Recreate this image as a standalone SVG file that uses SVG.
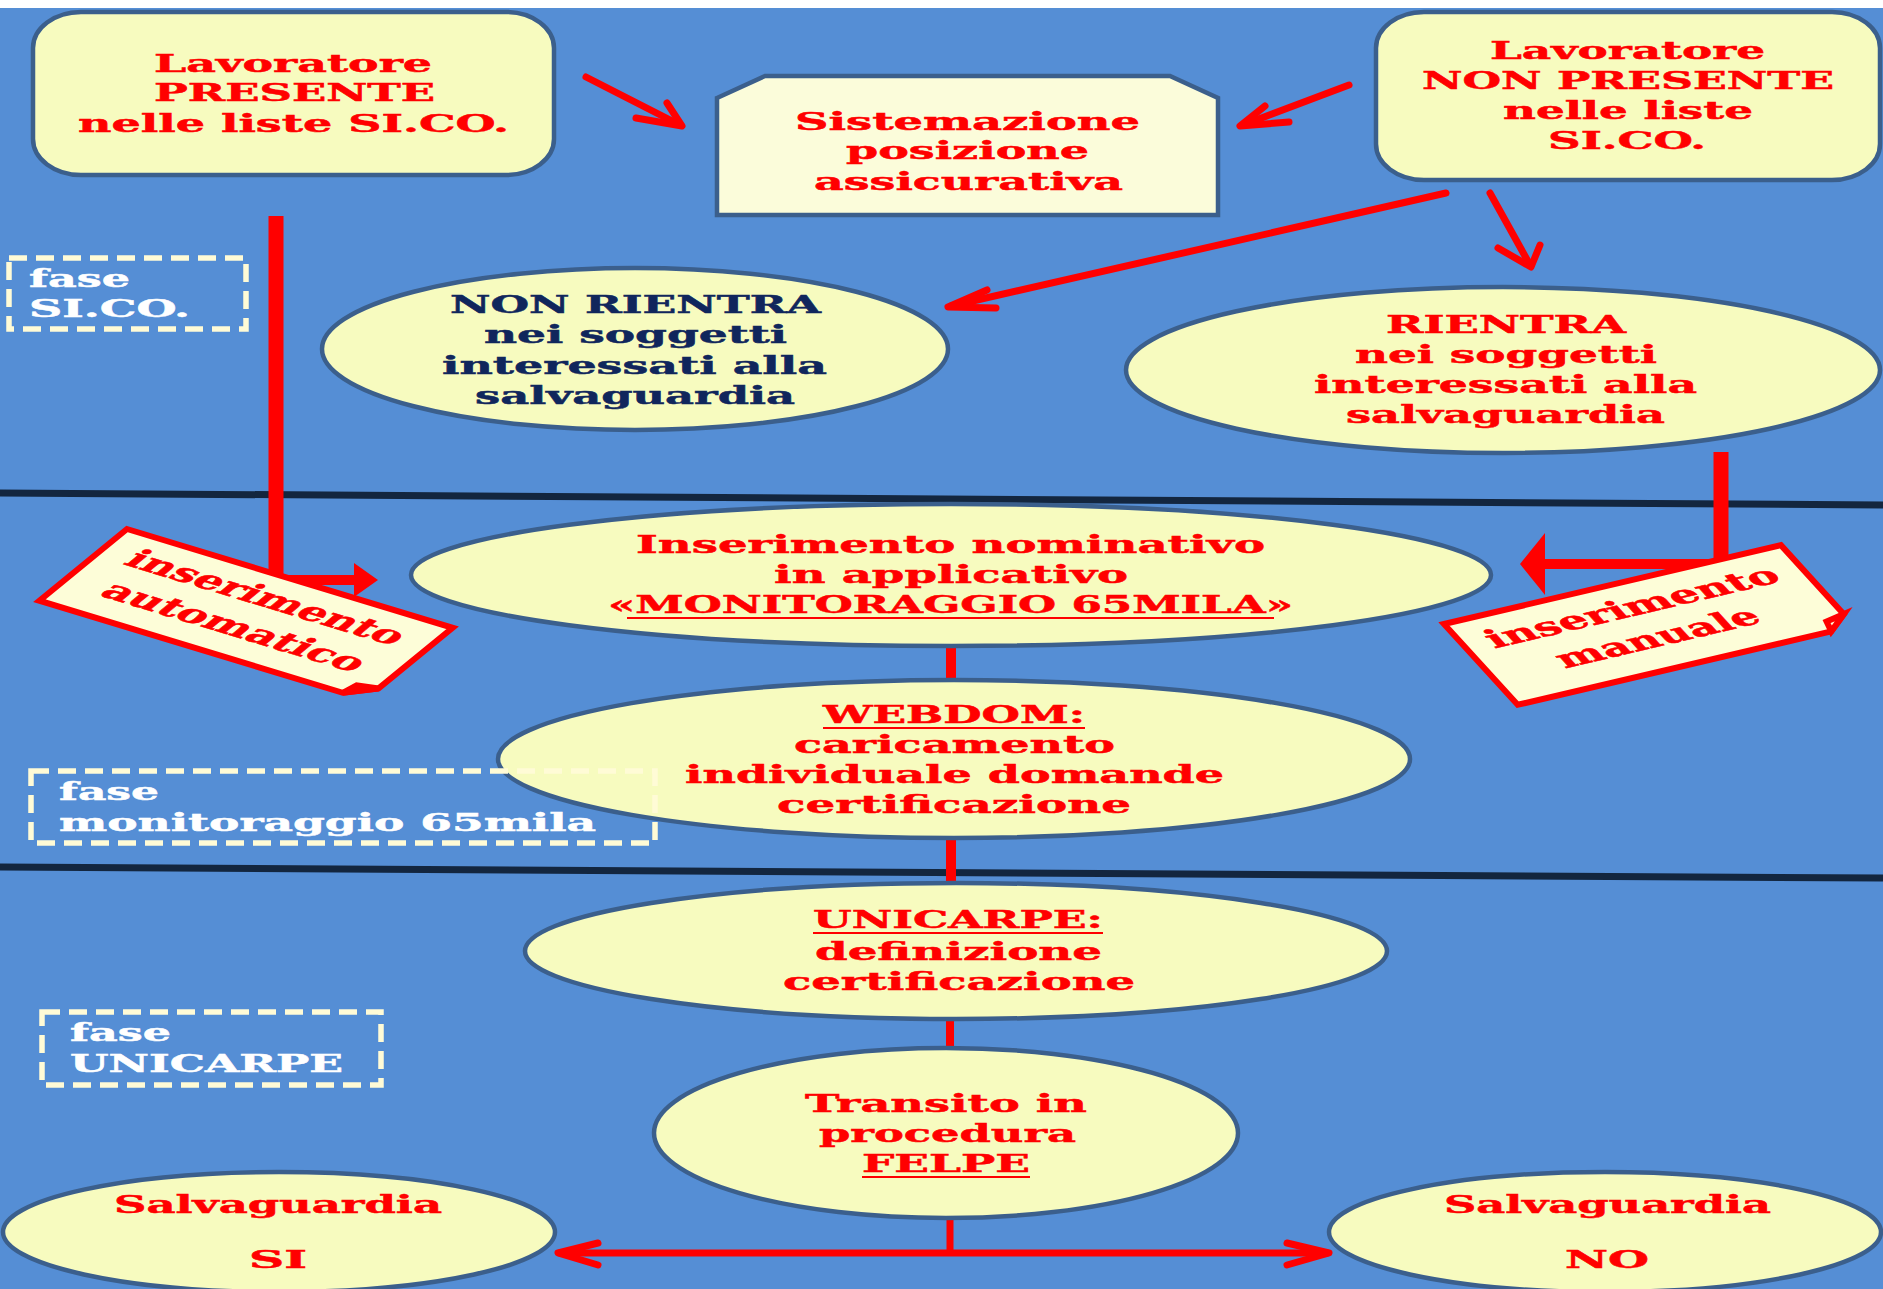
<svg xmlns="http://www.w3.org/2000/svg" width="1883" height="1289" viewBox="0 0 1883 1289">
<style>
.t{font-family:"DejaVu Serif","Liberation Serif",serif;font-weight:bold;font-size:25px;stroke-width:0.5px}
.r{fill:#FF0000;stroke:#FF0000}
.n{fill:#10265C;stroke:#10265C}
.w{fill:#FFFFFF;stroke:#FFFFFF}
.node{fill:#F7FBBF;stroke:#3B5F8C;stroke-width:4.5}
.box{fill:none;stroke:#FFFBD6;stroke-width:5.5;stroke-dasharray:18 9}
.div{stroke:#13263F;stroke-width:7}
.red{stroke:#FF0000;fill:none}
.thin{stroke-width:7;stroke-linecap:round;stroke-linejoin:round}
.ul{stroke:#FF0000;stroke-width:2}
.lab{fill:#FDFDD8;stroke:#FF0000;stroke-width:6;vector-effect:non-scaling-stroke;stroke-linejoin:miter}
</style>
<rect x="0" y="0" width="1883" height="1289" fill="#FFFFFF"/>
<rect x="0" y="8" width="1883" height="1281" fill="#558ED5"/>
<g id="dividers">
<line class="div" x1="0" y1="493" x2="1883" y2="505"/>
<line class="div" x1="0" y1="867" x2="1883" y2="878"/>
</g>
<g id="connectors">
<line class="red thin" x1="586" y1="77" x2="680" y2="125"/>
<polyline class="red thin" points="667,103 682,126 636,118"/>
<line class="red thin" x1="1349" y1="85" x2="1243" y2="125"/>
<polyline class="red thin" points="1265,106 1240,126 1289,122"/>
<line class="red thin" x1="1446" y1="193" x2="951" y2="306"/>
<polyline class="red thin" points="987,290 948,307 996,308"/>
<line class="red thin" x1="1490" y1="193" x2="1530" y2="265"/>
<polyline class="red thin" points="1498,248 1531,267 1540,245"/>
<line class="red" stroke-width="15" x1="276" y1="216" x2="276" y2="585"/>
<line class="red" stroke-width="10" x1="269" y1="580" x2="356" y2="580"/>
<polygon fill="#FF0000" points="354,563 378,580 354,597"/>
<line class="red" stroke-width="15" x1="1721" y1="452" x2="1721" y2="569"/>
<line class="red" stroke-width="10" x1="1728" y1="564" x2="1542" y2="564"/>
<polygon fill="#FF0000" points="1545,533 1520,564 1545,595"/>
<line class="red" stroke-width="10" x1="951" y1="645" x2="951" y2="683"/>
<line class="red" stroke-width="10" x1="951" y1="837" x2="951" y2="884"/>
<line class="red" stroke-width="8" x1="950" y1="1018" x2="950" y2="1050"/>
<line class="red" stroke-width="7" x1="950" y1="1217" x2="950" y2="1253"/>
<line class="red thin" x1="560" y1="1253" x2="1327" y2="1253"/>
<polyline class="red thin" points="598,1243 558,1253 598,1265"/>
<polyline class="red thin" points="1287,1243 1329,1253 1287,1265"/>
</g>
<g id="n-presente">
<rect class="node" x="33" y="12" width="521" height="163" rx="48" ry="36"/>
<text class="t r" x="154" y="72" textLength="278" lengthAdjust="spacingAndGlyphs">Lavoratore</text>
<text class="t r" x="154" y="101" textLength="281" lengthAdjust="spacingAndGlyphs">PRESENTE</text>
<text class="t r" x="78" y="132" textLength="431" lengthAdjust="spacingAndGlyphs">nelle liste SI.CO.</text>
</g>
<g id="n-sistemazione">
<polygon class="node" style="fill:#FBFCDA" points="717,98 765,76 1170,76 1218,98 1218,215 717,215"/>
<text class="t r" x="795" y="130" textLength="345" lengthAdjust="spacingAndGlyphs">Sistemazione</text>
<text class="t r" x="846" y="159" textLength="243" lengthAdjust="spacingAndGlyphs">posizione</text>
<text class="t r" x="814" y="190" textLength="309" lengthAdjust="spacingAndGlyphs">assicurativa</text>
</g>
<g id="n-nonpresente">
<rect class="node" x="1376" y="12" width="504" height="168" rx="48" ry="36"/>
<text class="t r" x="1490" y="59" textLength="275" lengthAdjust="spacingAndGlyphs">Lavoratore</text>
<text class="t r" x="1422" y="89" textLength="412" lengthAdjust="spacingAndGlyphs">NON PRESENTE</text>
<text class="t r" x="1503" y="119" textLength="250" lengthAdjust="spacingAndGlyphs">nelle liste</text>
<text class="t r" x="1548" y="149" textLength="158" lengthAdjust="spacingAndGlyphs">SI.CO.</text>
</g>
<g id="n-nonrientra">
<ellipse class="node" cx="635" cy="349" rx="313" ry="81"/>
<text class="t n" x="450" y="313" textLength="371" lengthAdjust="spacingAndGlyphs">NON RIENTRA</text>
<text class="t n" x="484" y="343" textLength="303" lengthAdjust="spacingAndGlyphs">nei soggetti</text>
<text class="t n" x="442" y="374" textLength="385" lengthAdjust="spacingAndGlyphs">interessati alla</text>
<text class="t n" x="475" y="404" textLength="320" lengthAdjust="spacingAndGlyphs">salvaguardia</text>
</g>
<g id="n-rientra">
<ellipse class="node" cx="1503" cy="370" rx="377" ry="83"/>
<text class="t r" x="1386" y="333" textLength="240" lengthAdjust="spacingAndGlyphs">RIENTRA</text>
<text class="t r" x="1355" y="363" textLength="302" lengthAdjust="spacingAndGlyphs">nei soggetti</text>
<text class="t r" x="1314" y="393" textLength="383" lengthAdjust="spacingAndGlyphs">interessati alla</text>
<text class="t r" x="1346" y="423" textLength="319" lengthAdjust="spacingAndGlyphs">salvaguardia</text>
</g>
<g id="n-inserimento">
<ellipse class="node" cx="951" cy="575" rx="540" ry="71"/>
<text class="t r" x="636" y="553" textLength="629" lengthAdjust="spacingAndGlyphs">Inserimento nominativo</text>
<text class="t r" x="774" y="583" textLength="354" lengthAdjust="spacingAndGlyphs">in applicativo</text>
<text class="t r" x="608" y="613" textLength="685" lengthAdjust="spacingAndGlyphs">«MONITORAGGIO 65MILA»</text>
<line class="ul" x1="627" y1="618" x2="1274" y2="618"/>
</g>
<g id="n-webdom">
<ellipse class="node" cx="954" cy="759" rx="456" ry="79"/>
<text class="t r" x="823" y="723" textLength="262" lengthAdjust="spacingAndGlyphs">WEBDOM:</text>
<line class="ul" x1="823" y1="728" x2="1085" y2="728"/>
<text class="t r" x="794" y="753" textLength="321" lengthAdjust="spacingAndGlyphs">caricamento</text>
<text class="t r" x="685" y="783" textLength="539" lengthAdjust="spacingAndGlyphs">individuale domande</text>
<text class="t r" x="777" y="813" textLength="354" lengthAdjust="spacingAndGlyphs">certificazione</text>
</g>
<g id="n-unicarpe">
<ellipse class="node" cx="956" cy="951" rx="431" ry="68"/>
<text class="t r" x="813" y="928" textLength="290" lengthAdjust="spacingAndGlyphs">UNICARPE:</text>
<line class="ul" x1="813" y1="933" x2="1103" y2="933"/>
<text class="t r" x="815" y="960" textLength="287" lengthAdjust="spacingAndGlyphs">definizione</text>
<text class="t r" x="783" y="990" textLength="352" lengthAdjust="spacingAndGlyphs">certificazione</text>
</g>
<g id="n-transito">
<ellipse class="node" cx="946" cy="1133" rx="292" ry="85"/>
<text class="t r" x="805" y="1112" textLength="282" lengthAdjust="spacingAndGlyphs">Transito in</text>
<text class="t r" x="819" y="1142" textLength="257" lengthAdjust="spacingAndGlyphs">procedura</text>
<text class="t r" x="862" y="1172" textLength="168" lengthAdjust="spacingAndGlyphs">FELPE</text>
<line class="ul" x1="862" y1="1177" x2="1030" y2="1177"/>
</g>
<g id="n-si">
<ellipse class="node" cx="279" cy="1232" rx="276" ry="60"/>
<text class="t r" x="114" y="1213" textLength="328" lengthAdjust="spacingAndGlyphs">Salvaguardia</text>
<text class="t r" x="249" y="1268" textLength="58" lengthAdjust="spacingAndGlyphs">SI</text>
</g>
<g id="n-no">
<ellipse class="node" cx="1605" cy="1232" rx="276" ry="60"/>
<text class="t r" x="1444" y="1213" textLength="327" lengthAdjust="spacingAndGlyphs">Salvaguardia</text>
<text class="t r" x="1565" y="1268" textLength="84" lengthAdjust="spacingAndGlyphs">NO</text>
</g>
<g id="fase-sico">
<rect class="box" x="9" y="258" width="237" height="71"/>
<text class="t w" x="29" y="287" textLength="101" lengthAdjust="spacingAndGlyphs">fase</text>
<text class="t w" x="29" y="317" textLength="161" lengthAdjust="spacingAndGlyphs">SI.CO.</text>
</g>
<g id="fase-monitoraggio">
<rect class="box" x="31" y="771" width="624" height="72"/>
<text class="t w" x="59" y="800" textLength="100" lengthAdjust="spacingAndGlyphs">fase</text>
<text class="t w" x="59" y="831" textLength="537" lengthAdjust="spacingAndGlyphs">monitoraggio 65mila</text>
</g>
<g id="fase-unicarpe">
<rect class="box" x="42" y="1012" width="339" height="73"/>
<text class="t w" x="70" y="1041" textLength="101" lengthAdjust="spacingAndGlyphs">fase</text>
<text class="t w" x="70" y="1072" textLength="273" lengthAdjust="spacingAndGlyphs">UNICARPE</text>
</g>
<g id="label-automatico" transform="matrix(1.714,0.520,-1.043,0.854,127,529)">
<polygon class="lab" points="0,0 190,0 190,71 177,84 0,84"/>
<polygon class="lab" points="190,71 177,84 179,74"/>
<text class="t r" x="16" y="31" textLength="158" lengthAdjust="spacingAndGlyphs">inserimento</text>
<text class="t r" x="22" y="64" textLength="149" lengthAdjust="spacingAndGlyphs">automatico</text>
</g>
<g id="label-manuale" transform="matrix(1.792,-0.4195,0.828,0.9078,1444,624)">
<polygon class="lab" points="0,0 188,0 188,76 175,89 0,89"/>
<polygon class="lab" points="188,76 175,89 177,79"/>
<text class="t r" x="13" y="33" textLength="161" lengthAdjust="spacingAndGlyphs">inserimento</text>
<text class="t r" x="37" y="66" textLength="111" lengthAdjust="spacingAndGlyphs">manuale</text>
</g>
</svg>
